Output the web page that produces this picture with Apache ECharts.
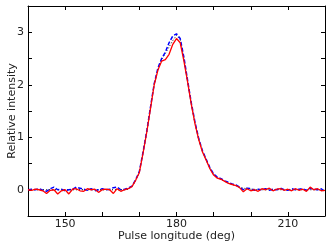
<!DOCTYPE html>
<html><head><meta charset="utf-8">
<script src="https://cdn.jsdelivr.net/npm/echarts@6/dist/echarts.min.js"></script>
<style>html,body{margin:0;padding:0;background:#fff}#c{width:332px;height:249px}</style>
</head><body><div id="c"></div>
<script>
const longitude = [];
for (let d = 140; d <= 220; d++) longitude.push(d);
const redProfile = [0.00,-0.01,0.01,0.00,-0.02,-0.07,-0.01,0.00,-0.08,-0.02,
 0.00,-0.08,0.01,0.02,-0.02,-0.03,0.02,0.00,0.01,-0.05,
 0.00,0.01,0.00,-0.07,0.02,-0.03,0.00,0.02,0.06,0.18,
 0.33,0.70,1.10,1.55,2.00,2.28,2.45,2.48,2.58,2.77,
 2.88,2.80,2.45,2.05,1.62,1.25,0.95,0.72,0.56,0.40,
 0.28,0.22,0.20,0.16,0.12,0.10,0.08,0.04,-0.04,0.02,
 -0.02,0.00,-0.03,0.02,0.00,0.03,-0.02,0.01,0.02,-0.01,
 0.01,-0.02,0.02,-0.01,0.01,-0.03,0.05,0.00,0.02,-0.02,-0.01];
const blueProfile = [0.00,0.01,0.00,0.02,-0.01,-0.03,0.02,0.05,0.00,0.01,
 -0.02,0.00,0.01,0.05,0.03,0.01,-0.01,0.02,-0.02,0.00,
 0.02,0.00,0.01,0.04,0.05,0.00,0.01,0.03,0.07,0.19,
 0.35,0.72,1.12,1.58,2.02,2.32,2.50,2.62,2.80,2.93,
 2.97,2.88,2.52,2.08,1.65,1.28,0.97,0.74,0.58,0.42,
 0.30,0.24,0.21,0.17,0.14,0.11,0.09,0.05,0.00,0.03,
 0.02,-0.01,0.01,0.00,0.02,-0.01,0.01,0.00,0.03,0.00,
 -0.01,0.02,0.00,0.01,0.02,-0.01,0.03,0.01,0.00,0.02,-0.04];
const blackProfile = [0,0,0,0,0,0,0,0,0,0,
 0,0,0,0,0,0,0,0,0,0,
 0,0,0,0,0,0,0,0.01,0.06,0.18,
 0.34,0.71,1.11,1.56,2.01,2.30,2.48,2.60,2.72,2.84,
 2.94,2.86,2.50,2.06,1.63,1.26,0.96,0.73,0.57,0.41,
 0.29,0.23,0.20,0.16,0.13,0.10,0.08,0.05,0.03,0.02,
 0.01,0.01,0,0,0,0,0,0,0,0,
 0,0,0,0,0,0,0,0,0,0,0];
const xLabels = [150, 180, 210];
const yLabels = [0, 1, 2, 3];

const pairs = a => longitude.map((x, i) => [x, a[i]]);
const font = 'DejaVu Sans';
const tickStyle = {show: true, inside: true, length: 4, lineStyle: {color: '#000', width: 1}};
const lineStyle = {show: true, onZero: false, lineStyle: {color: '#000', width: 1}};
const chart = echarts.init(document.getElementById('c'), null, {renderer: 'canvas'});
chart.setOption({
  animation: false,
  grid: {left: 28, right: 7, top: 6, bottom: 33, containLabel: false, outerBoundsMode: 'none'},
  xAxis: [{
    type: 'value', min: 140, max: 220, interval: 10,
    axisLine: lineStyle,
    axisTick: tickStyle, splitLine: {show: false},
    axisLabel: {color: '#222', fontFamily: font, fontSize: 11, margin: 3,
      formatter: v => xLabels.includes(v) ? String(v) : ''},
    name: 'Pulse longitude (deg)', nameLocation: 'middle', nameGap: 15, nameMoveOverlap: false,
    nameTextStyle: {color: '#222', fontFamily: font, fontSize: 11, verticalAlign: 'top'}
  }, {
    type: 'value', position: 'top', min: 140, max: 220, interval: 10,
    axisLine: lineStyle,
    axisTick: tickStyle, axisLabel: {show: false}, splitLine: {show: false}
  }],
  yAxis: [{
    type: 'value', min: -0.5, max: 3.5, interval: 0.5,
    axisLine: lineStyle,
    axisTick: tickStyle, splitLine: {show: false},
    axisLabel: {color: '#222', fontFamily: font, fontSize: 11, margin: 4,
      formatter: v => yLabels.includes(v) ? String(v) : ''},
    name: 'Relative intensity', nameLocation: 'middle', nameGap: 10, nameRotate: 90, nameMoveOverlap: false,
    nameTextStyle: {color: '#222', fontFamily: font, fontSize: 11}
  }, {
    type: 'value', position: 'right', min: -0.5, max: 3.5, interval: 0.5,
    axisLine: lineStyle,
    axisTick: tickStyle, axisLabel: {show: false}, splitLine: {show: false}
  }],
  series: [
    {type: 'line', data: pairs(blackProfile), showSymbol: false, symbol: 'none',
     lineStyle: {color: '#000', width: 1, type: [1, 2]}, z: 2},
    {type: 'line', data: pairs(blueProfile), showSymbol: false, symbol: 'none',
     lineStyle: {color: '#0000ff', width: 1.5, type: [4, 2]}, z: 3},
    {type: 'line', data: pairs(redProfile), showSymbol: false, symbol: 'none',
     lineStyle: {color: '#ff0000', width: 1.3}, z: 4}
  ]
});
</script></body></html>
